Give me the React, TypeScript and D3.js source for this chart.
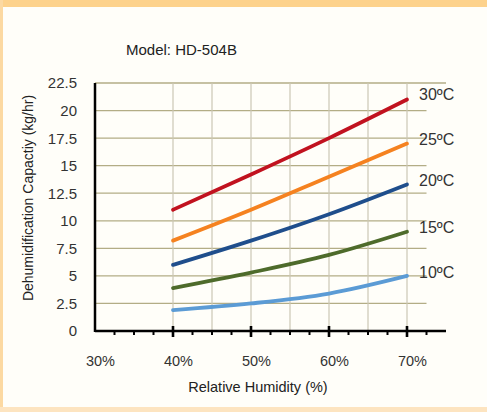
import * as d3 from "d3";

const humidity = [40, 50, 60, 70];
const temps = ["30ºC", "25ºC", "20ºC", "15ºC", "10ºC"];
const cap30 = [11.0, 14.2, 17.5, 21.0];
const cap25 = [8.2, 11.0, 14.0, 17.0];
const cap20 = [6.0, 8.2, 10.6, 13.3];
const cap15 = [3.9, 5.3, 6.9, 9.0];
const cap10 = [1.9, 2.5, 3.4, 5.0];
const seriesColors = ["#c1121f", "#f58220", "#1f4e8c", "#4e6b2b", "#5b9bd5"];
const yTicks = [0, 2.5, 5, 7.5, 10, 12.5, 15, 17.5, 20, 22.5];
const xLabels = [30, 40, 50, 60, 70];

const W = 487;
const H = 412;

export default function App() {
  const x = d3.scaleLinear().domain([30, 75]).range([95, 446]);
  const y = d3.scaleLinear().domain([0, 22.5]).range([331, 83]);
  const series = [cap30, cap25, cap20, cap15, cap10];
  const line = d3
    .line<number>()
    .x((_, i) => x(humidity[i]))
    .y((d) => y(d))
    .curve(d3.curveMonotoneX);

  const vGrid = d3.range(40, 71, 5);
  const minor = d3.range(32.5, 75, 2.5).filter((v) => v % 10 !== 0);
  const major = [40, 50, 60, 70];

  return (
    <svg width={W} height={H} style={{ position: "absolute", left: 0, top: 0 }} fontFamily="'Liberation Sans', Arial, sans-serif">
      <rect x={0} y={0} width={W} height={H} fill="#fffef9" />
      <rect x={0} y={0} width={W} height={7} fill="#fdd28c" />
      <rect x={0} y={0} width={3} height={H} fill="#fcd9a2" />
      <rect x={0} y={407} width={W} height={5} fill="#fde4c0" />

      <text x={126} y={55} fontSize={15} fill="#222">Model: HD-504B</text>

      {/* grid */}
      {yTicks.filter((t) => t > 0).map((t) => (
        <line key={"h" + t} x1={x(30)} x2={t === 22.5 ? x(75) : x(72.5)} y1={y(t)} y2={y(t)} stroke="#b3ad86" strokeWidth={1.3} />
      ))}
      {vGrid.map((v) => (
        <line key={"v" + v} x1={x(v)} x2={x(v)} y1={y(22.5)} y2={y(0)} stroke="#cbc7b4" strokeWidth={1.2} />
      ))}

      {/* series */}
      {series.map((s, i) => (
        <path key={temps[i]} d={line(s) ?? ""} fill="none" stroke={seriesColors[i]} strokeWidth={3.8} strokeLinecap="round" />
      ))}

      {/* axes */}
      <line x1={x(30)} x2={x(30)} y1={y(22.5)} y2={y(0) + 1} stroke="#000" strokeWidth={2.5} />
      <line x1={x(30)} x2={x(75)} y1={y(0)} y2={y(0)} stroke="#000" strokeWidth={2.5} />
      {minor.map((v) => (
        <line key={"m" + v} x1={x(v)} x2={x(v)} y1={y(0)} y2={y(0) + 4} stroke="#000" strokeWidth={2} />
      ))}
      {major.map((v) => (
        <line key={"M" + v} x1={x(v)} x2={x(v)} y1={y(0) - 5} y2={y(0) + 6} stroke="#000" strokeWidth={2.6} />
      ))}

      {yTicks.map((t) => (
        <text key={"yl" + t} x={77} y={y(t)} dy="0.36em" textAnchor="end" fontSize={15} fill="#333">
          {t}
        </text>
      ))}
      {xLabels.map((v) => (
        <text key={"xl" + v} x={x(v) + 5.5} y={366} textAnchor="middle" fontSize={14.5} fill="#333">
          {v}%
        </text>
      ))}

      <text x={258} y={392} textAnchor="middle" fontSize={14.5} fill="#222">Relative Humidity (%)</text>
      <text transform="translate(33,198) rotate(-90)" textAnchor="middle" fontSize={14} fill="#222">
        Dehumidification Capactiy (kg/hr)
      </text>

      {temps.map((t, i) => (
        <text key={"lab" + t} x={419} y={[94, 139, 180, 227, 272][i]} dy="0.36em" fontSize={16} fill="#333">
          {t}
        </text>
      ))}
    </svg>
  );
}
